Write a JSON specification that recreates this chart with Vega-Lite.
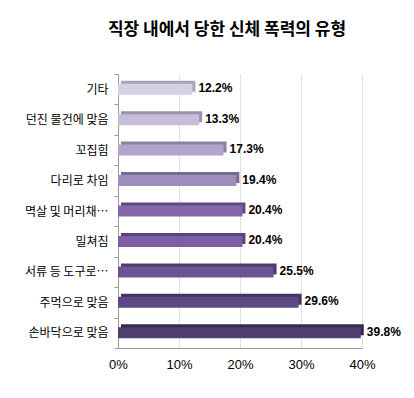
{
  "$schema": "https://vega.github.io/schema/vega-lite/v6.json",
  "autosize": "none",
  "width": 244,
  "height": 274,
  "padding": {"left": 118, "top": 74, "right": 52, "bottom": 50},
  "background": "white",
  "config": {"view": {"stroke": null}},
  "title": {
    "text": "직장 내에서 당한 신체 폭력의 유형",
    "font": "Noto Sans CJK KR",
    "fontSize": 17,
    "fontWeight": "bold",
    "color": "#000000",
    "anchor": "middle",
    "frame": "group",
    "dx": -13,
    "offset": 29
  },
  "data": {
    "values": [
      {"type": "기타", "pct": 12.2, "label": "12.2%"},
      {"type": "던진 물건에 맞음", "pct": 13.3, "label": "13.3%"},
      {"type": "꼬집힘", "pct": 17.3, "label": "17.3%"},
      {"type": "다리로 차임", "pct": 19.4, "label": "19.4%"},
      {"type": "멱살 및 머리채…", "pct": 20.4, "label": "20.4%"},
      {"type": "밀쳐짐", "pct": 20.4, "label": "20.4%"},
      {"type": "서류 등 도구로…", "pct": 25.5, "label": "25.5%"},
      {"type": "주먹으로 맞음", "pct": 29.6, "label": "29.6%"},
      {"type": "손바닥으로 맞음", "pct": 39.8, "label": "39.8%"}
    ]
  },
  "encoding": {
    "y": {
      "field": "type",
      "type": "nominal",
      "sort": null,
      "scale": {"paddingInner": 0, "paddingOuter": 0},
      "axis": {
        "title": null,
        "labelFont": "Noto Sans CJK KR",
        "labelFontSize": 12,
        "labelColor": "#000000",
        "labelPadding": 6,
        "labelLimit": 200,
        "tickColor": "#9a9a9a",
        "tickSize": 4,
        "tickBand": "extent",
        "domainColor": "#9a9a9a",
        "grid": false
      }
    },
    "x": {
      "field": "pct",
      "type": "quantitative",
      "scale": {"domain": [0, 40]},
      "axis": {
        "title": null,
        "values": [0, 10, 20, 30, 40],
        "labelExpr": "datum.value + '%'",
        "labelFlush": false,
        "labelFont": "Liberation Sans Narrow, Liberation Sans",
        "labelFontSize": 13,
        "labelColor": "#000000",
        "labelPadding": 10,
        "tickSize": 0,
        "domainColor": "#9a9a9a",
        "grid": true,
        "gridColor": "#e0e0e0"
      }
    }
  },
  "layer": [
    {
      "mark": {"type": "bar", "size": 11, "xOffset": 3, "yOffset": -3},
      "encoding": {
        "color": {
          "field": "type",
          "type": "nominal",
          "legend": null,
          "scale": {
            "domain": ["기타", "던진 물건에 맞음", "꼬집힘", "다리로 차임", "멱살 및 머리채…", "밀쳐짐", "서류 등 도구로…", "주먹으로 맞음", "손바닥으로 맞음"],
            "range": ["#a9a3b6", "#9a92ad", "#8a80a0", "#786a94", "#614a82", "#5a437a", "#4e3b6e", "#433363", "#37294f"]
          }
        }
      }
    },
    {
      "mark": {"type": "bar", "size": 11},
      "encoding": {
        "color": {
          "field": "type",
          "type": "nominal",
          "legend": null,
          "scale": {
            "domain": ["기타", "던진 물건에 맞음", "꼬집힘", "다리로 차임", "멱살 및 머리채…", "밀쳐짐", "서류 등 도구로…", "주먹으로 맞음", "손바닥으로 맞음"],
            "range": ["#d6d1e3", "#c5bdd9", "#b1a6c9", "#9d8ebd", "#8467aa", "#7b5fa0", "#6b5493", "#5e4986", "#4f3e70"]
          }
        }
      }
    },
    {
      "mark": {
        "type": "text",
        "align": "left",
        "baseline": "middle",
        "dx": 6,
        "dy": -1,
        "font": "Liberation Sans",
        "fontSize": 12,
        "fontWeight": "bold",
        "color": "#000000"
      },
      "encoding": {"text": {"field": "label"}}
    }
  ],
  "resolve": {"scale": {"color": "independent"}}
}
